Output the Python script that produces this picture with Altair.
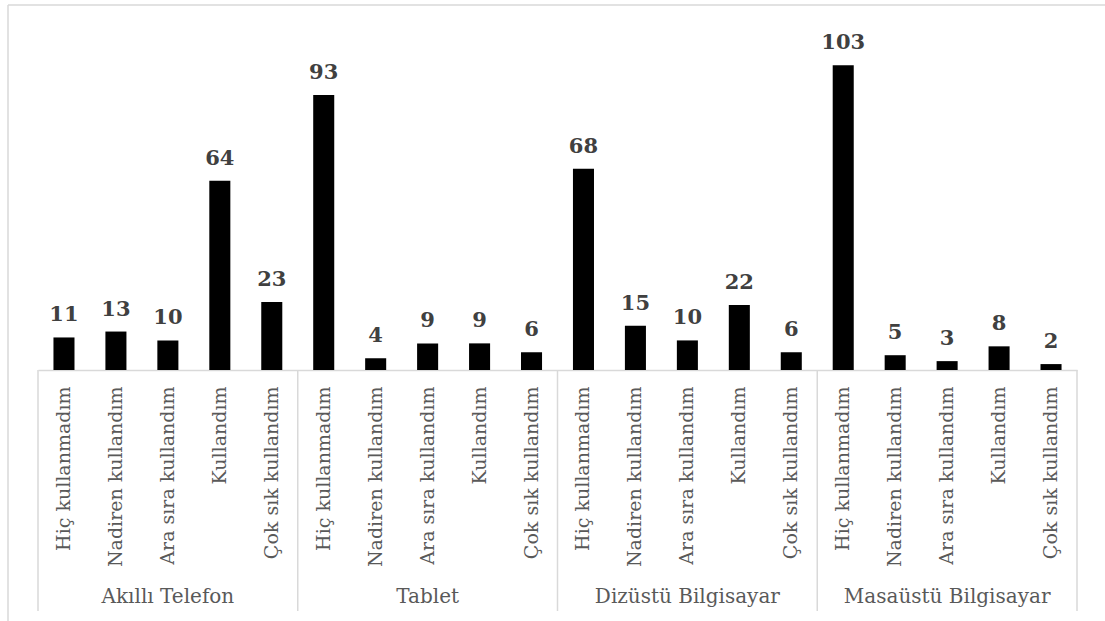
import altair as alt
import pandas as pd

# Device groups and answer categories
groups = ["Akıllı Telefon", "Tablet", "Dizüstü Bilgisayar", "Masaüstü Bilgisayar"]
answers = ["Hiç kullanmadım", "Nadiren kullandım", "Ara sıra kullandım",
           "Kullandım", "Çok sık kullandım"]

# Counts per group, in the order of `answers`
counts_phone = [11, 13, 10, 64, 23]
counts_tablet = [93, 4, 9, 9, 6]
counts_laptop = [68, 15, 10, 22, 6]
counts_desktop = [103, 5, 3, 8, 2]

all_counts = [counts_phone, counts_tablet, counts_laptop, counts_desktop]

rows = []
for g, vals in zip(groups, all_counts):
    for a, v in zip(answers, vals):
        rows.append({"group": g, "answer": a, "key": f"{g}|{a}", "count": v})
df = pd.DataFrame(rows)
order = list(df["key"])

# Labels for groups, centred on each group's middle category
grp_df = pd.DataFrame({"group": groups, "key": [f"{g}|{answers[2]}" for g in groups]})
# Separators at the start of each group, plus one at the end of the last group
sep_start = pd.DataFrame({"key": [f"{g}|{answers[0]}" for g in groups]})
sep_end = pd.DataFrame({"key": [f"{groups[-1]}|{answers[-1]}"]})

W, H = 1039, 355
STEP = W / len(order)
SERIF = "DejaVu Serif"
LINE = "#d9d9d9"

x_enc = alt.X(
    "key:N",
    sort=order,
    scale=alt.Scale(paddingInner=0.595, paddingOuter=0.2975),
    axis=alt.Axis(
        title=None,
        labelAngle=-90,
        labelExpr="split(datum.value, '|')[1]",
        labelFont=SERIF,
        labelFontSize=19,
        labelColor="#595959",
        labelPadding=16,
        ticks=False,
        grid=False,
        domainColor=LINE,
        domainWidth=1.5,
        labelLimit=400,
    ),
)
y_enc = alt.Y("count:Q", scale=alt.Scale(domain=[0, 120]), axis=None)

base = alt.Chart(df)

bars = base.mark_bar(color="#000000").encode(x=x_enc, y=y_enc)

values = base.mark_text(
    font=SERIF, fontSize=21, fontWeight="bold", color="#404040",
    baseline="alphabetic", dy=-16,
).encode(x=alt.X("key:N", sort=order), y="count:Q", text="count:Q")

group_labels = alt.Chart(grp_df).mark_text(
    font=SERIF, fontSize=20, color="#595959", baseline="alphabetic",
).encode(x=alt.X("key:N", sort=order), y=alt.value(H + 233), text="group:N")

seps_a = alt.Chart(sep_start).mark_rule(
    color=LINE, strokeWidth=1.5, xOffset=-STEP / 2
).encode(x=alt.X("key:N", sort=order), y=alt.value(H), y2=alt.value(H + 241))

seps_b = alt.Chart(sep_end).mark_rule(
    color=LINE, strokeWidth=1.5, xOffset=STEP / 2
).encode(x=alt.X("key:N", sort=order), y=alt.value(H), y2=alt.value(H + 241))

# Outer chart frame (top and left edges)
frame_top = alt.Chart(pd.DataFrame({"k": [0]})).mark_rule(
    color=LINE, strokeWidth=1.5
).encode(x=alt.value(-30), x2=alt.value(W + 40), y=alt.value(-10))
frame_left = alt.Chart(pd.DataFrame({"k": [0]})).mark_rule(
    color=LINE, strokeWidth=1.5
).encode(x=alt.value(-30), y=alt.value(-10), y2=alt.value(H + 260))

chart = alt.layer(
    frame_top, frame_left, seps_a, seps_b, bars, values, group_labels
).properties(
    width=W,
    height=H,
    autosize=alt.AutoSizeParams(type="none"),
    padding={"left": 38, "top": 15, "right": 28, "bottom": 251},
    background="white",
).configure_view(stroke=None)

chart.save("out.html", embed_options={"renderer": "svg", "actions": False})
